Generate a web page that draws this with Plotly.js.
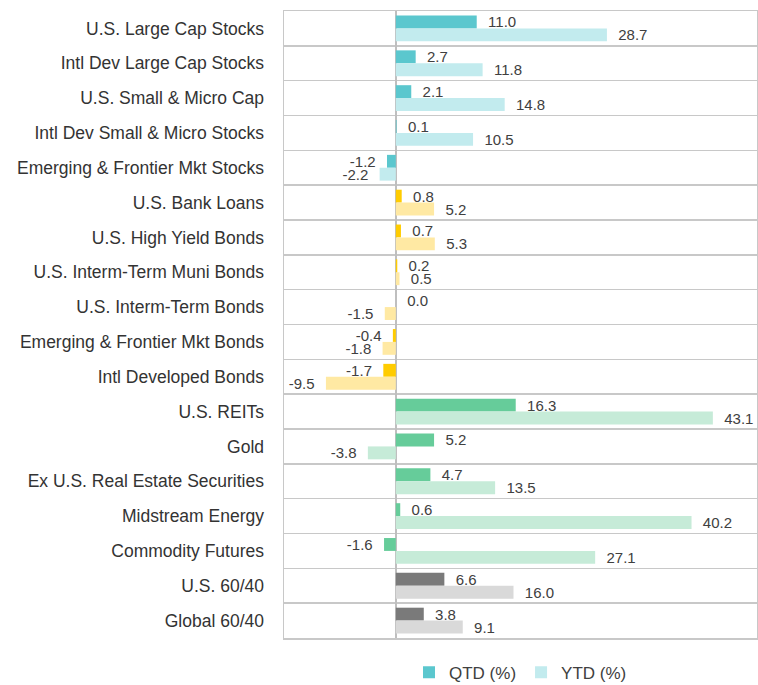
<!DOCTYPE html>
<html>
<head>
<meta charset="utf-8">
<script src="https://cdn.plot.ly/plotly-3.0.1.min.js"></script>
<style>
  html, body { margin: 0; padding: 0; background: #fff; }
  #chart { width: 758px; height: 685px; }
</style>
</head>
<body>
<div id="chart"></div>
<script>
// --- dane ---
const kategorie = [
    "U.S. Large Cap Stocks", "Intl Dev Large Cap Stocks", "U.S. Small & Micro Cap",
    "Intl Dev Small & Micro Stocks", "Emerging & Frontier Mkt Stocks", "U.S. Bank Loans",
    "U.S. High Yield Bonds", "U.S. Interm-Term Muni Bonds", "U.S. Interm-Term Bonds",
    "Emerging & Frontier Mkt Bonds", "Intl Developed Bonds", "U.S. REITs", "Gold",
    "Ex U.S. Real Estate Securities", "Midstream Energy", "Commodity Futures",
    "U.S. 60/40", "Global 60/40"
];
const qtd = [11.0, 2.7, 2.1, 0.1, -1.2, 0.8, 0.7, 0.2, 0.0, -0.4, -1.7, 16.3, 5.2, 4.7, 0.6, -1.6, 6.6, 3.8];
const ytd = [28.7, 11.8, 14.8, 10.5, -2.2, 5.2, 5.3, 0.5, -1.5, -1.8, -9.5, 43.1, -3.8, 13.5, 40.2, 27.1, 16.0, 9.1];
const grupy = ["eq", "eq", "eq", "eq", "eq", "fi", "fi", "fi", "fi", "fi", "fi",
               "ra", "ra", "ra", "ra", "ra", "bal", "bal"];

// kolory grup: [QTD, YTD]
const kolory = {
    eq:  ["#5BC7CE", "#C2EBEE"],
    fi:  ["#FFCC00", "#FFE9A3"],
    ra:  ["#66CC9A", "#C6EBD8"],
    bal: ["#7A7A7A", "#D9D9D9"]
};

const FONT = "Liberation Sans Narrow, Arial Narrow, Liberation Sans, sans-serif";
const NB = "\u00A0\u00A0";

function etykiety(wartosci) {
    return wartosci.map(v => v < 0 ? v.toFixed(1) + NB : NB + v.toFixed(1));
}

function slupki(nazwa, wartosci, idx) {
    return {
        type: "bar",
        orientation: "h",
        name: nazwa,
        y: kategorie,
        x: wartosci,
        text: etykiety(wartosci),
        textposition: "outside",
        constraintext: "none",
        cliponaxis: false,
        textfont: { family: FONT, size: 15, color: "#404040" },
        marker: {
            color: grupy.map(g => kolory[g][idx]),
            line: { width: 0 }
        },
        hoverinfo: "x+y"
    };
}

const data = [slupki("QTD (%)", qtd, 0), slupki("YTD (%)", ytd, 1)];

const layout = {
    width: 758,
    height: 685,
    barmode: "group",
    bargap: 0.26,
    bargroupgap: 0,
    showlegend: true,
    font: { family: FONT, size: 16, color: "#333333" },
    margin: { l: 284, r: 1, t: 11, b: 47, pad: 0 },
    paper_bgcolor: "#ffffff",
    plot_bgcolor: "#ffffff",
    xaxis: {
        range: [-15.2, 49.1],
        showgrid: false,
        showticklabels: false,
        ticks: "",
        zeroline: true,
        zerolinecolor: "#BFBFBF",
        zerolinewidth: 2,
        showline: true,
        mirror: true,
        linecolor: "#C8C8C8",
        linewidth: 1.5,
        fixedrange: true
    },
    yaxis: {
        autorange: "reversed",
        type: "category",
        tickson: "boundaries",
        showgrid: true,
        gridcolor: "#C8C8C8",
        gridwidth: 1.5,
        ticks: "",
        ticklabelstandoff: 15,
        showline: true,
        mirror: true,
        linecolor: "#C8C8C8",
        linewidth: 1.5,
        tickfont: { family: FONT, size: 17.5, color: "#333333" },
        fixedrange: true
    },
    legend: {
        orientation: "h",
        x: 0.5,
        xanchor: "center",
        yref: "container",
        y: 0.018,
        yanchor: "middle",
        font: { family: FONT, size: 17, color: "#404040" },
        traceorder: "normal",
        itemclick: false
    }
};

Plotly.newPlot("chart", data, layout, { displayModeBar: false, staticPlot: true });
</script>
</body>
</html>
